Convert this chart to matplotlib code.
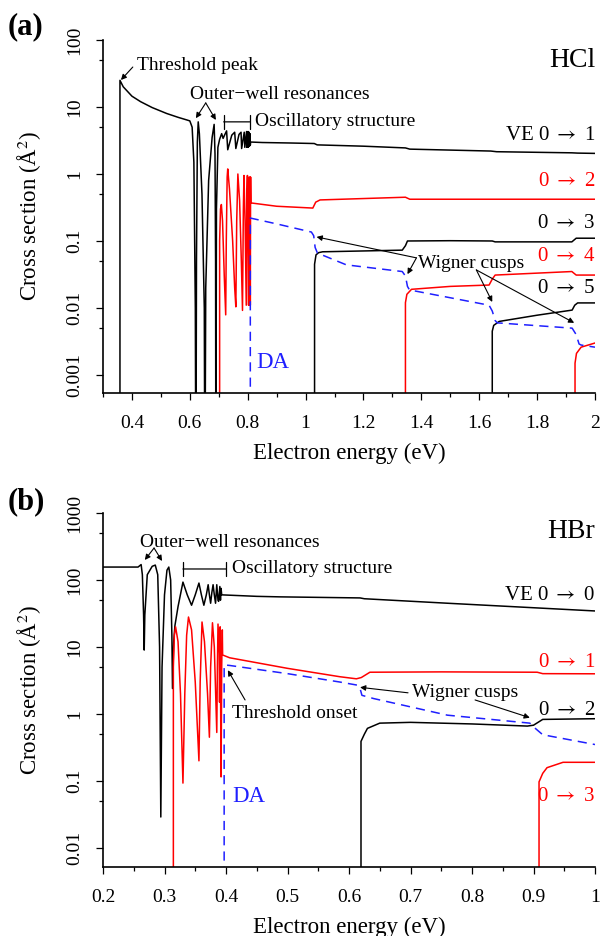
import numpy as np
import matplotlib
matplotlib.use("Agg")
import matplotlib.pyplot as plt
from matplotlib.ticker import FixedLocator, MultipleLocator, FuncFormatter

plt.rcParams['font.family'] = ['Liberation Serif', 'DejaVu Serif']
plt.rcParams['mathtext.fontset'] = 'stix'

FLOOR = 1e-5  # curves that drop below the axis

# ---------------- HCl (panel a) ----------------
hcl_ve_e = [0.3586, 0.3586, 0.37, 0.40, 0.43, 0.47, 0.52, 0.56, 0.59, 0.600, 0.608, 0.614, 0.619, 0.621,
            0.623, 0.626, 0.629, 0.633, 0.642, 0.650, 0.652, 0.655, 0.665, 0.677, 0.684, 0.687, 0.689,
            0.690, 0.692, 0.697, 0.703, 0.710, 0.715, 0.720, 0.727, 0.731, 0.745, 0.755, 0.759, 0.770,
            0.777, 0.779, 0.788, 0.790, 0.796, 0.797, 0.801, 0.802, 0.805, 0.806, 0.808, 0.809, 0.810,
            0.85, 0.95, 1.03, 1.04, 1.2, 1.345, 1.36, 1.64, 1.66, 1.92, 1.94, 2.0]
hcl_ve_s = [FLOOR, 25, 20, 14.5, 12, 9.8, 8.0, 7.0, 6.4, 6.2, 5.0, 1.5, 0.01, FLOOR,
            0.05, 3.0, 6.0, 4.0, 0.5, 0.01, FLOOR, 0.02, 0.8, 3.5, 5.5, 2.0, 0.05,
            FLOOR, 0.3, 2.5, 3.3, 4.0, 3.4, 3.8, 4.4, 2.3, 3.8, 4.2, 2.4, 3.9,
            4.2, 2.4, 4.2, 2.5, 4.3, 2.5, 4.3, 2.5, 4.2, 2.6, 4.0, 2.7, 3.0,
            2.95, 2.9, 2.85, 2.72, 2.6, 2.45, 2.35, 2.2, 2.15, 2.07, 2.05, 2.03]

hcl_v2_e = [0.703, 0.703, 0.706, 0.709, 0.713, 0.719, 0.724, 0.726, 0.729, 0.731, 0.737, 0.748, 0.755,
            0.759, 0.762, 0.766, 0.772, 0.778, 0.782, 0.785, 0.787, 0.791, 0.795, 0.797, 0.799, 0.801,
            0.803, 0.805, 0.807, 0.808, 0.809, 0.810, 0.811, 0.9, 1.025, 1.035, 1.05, 1.2, 1.345, 1.36,
            1.65, 2.0]
hcl_v2_s = [FLOOR, 0.1, 0.3, 0.35, 0.2, 0.03, 0.0079, 0.1, 0.9, 1.19, 0.6, 0.1, 0.02,
            0.0104, 0.2, 1.0, 0.4, 0.05, 0.0092, 0.3, 0.95, 0.2, 0.011, 0.5, 0.95, 0.1,
            0.011, 0.9, 0.011, 0.9, 0.011, 0.9, 0.37, 0.33, 0.31, 0.38, 0.41, 0.43, 0.45, 0.42,
            0.42, 0.42]

hcl_da_e = [0.809, 0.809, 0.9, 1.02, 1.028, 1.033, 1.041, 1.141, 1.334, 1.345, 1.352, 1.359, 1.634,
            1.645, 1.655, 1.662, 1.921, 1.935, 1.945, 1.952, 2.0]
hcl_da_s = [FLOOR, 0.22, 0.18, 0.136, 0.12, 0.08, 0.066, 0.044, 0.035, 0.03, 0.021, 0.0186, 0.011,
            0.009, 0.0065, 0.006, 0.005, 0.004, 0.0029, 0.0028, 0.0026]

hcl_v3_e = [1.031, 1.031, 1.036, 1.045, 1.059, 1.2, 1.334, 1.345, 1.352, 1.5, 1.645, 1.655, 1.92, 1.935, 2.0]
hcl_v3_s = [FLOOR, 0.045, 0.062, 0.067, 0.069, 0.071, 0.073, 0.085, 0.1, 0.101, 0.1, 0.097, 0.097, 0.11, 0.11]

hcl_v4_e = [1.345, 1.345, 1.35, 1.366, 1.5, 1.634, 1.645, 1.655, 1.92, 1.935, 2.0]
hcl_v4_s = [FLOOR, 0.012, 0.016, 0.019, 0.021, 0.022, 0.027, 0.031, 0.035, 0.031, 0.031]

hcl_v5_e = [1.645, 1.645, 1.65, 1.669, 1.8, 1.921, 1.93, 1.94, 2.0]
hcl_v5_s = [FLOOR, 0.0045, 0.0055, 0.0063, 0.0078, 0.0093, 0.011, 0.0119, 0.0119]

hcl_v6_e = [1.931, 1.931, 1.936, 1.952, 2.0]
hcl_v6_s = [FLOOR, 0.0015, 0.0021, 0.0026, 0.003]

# ---------------- HBr (panel b) ----------------
hbr_ve_e = [0.2, 0.257, 0.262, 0.264, 0.266, 0.267, 0.268, 0.272, 0.28, 0.285, 0.289, 0.292, 0.294,
            0.296, 0.300, 0.304, 0.307, 0.310, 0.312, 0.313, 0.315, 0.317, 0.322, 0.33, 0.337, 0.344,
            0.35, 0.356, 0.360, 0.364, 0.368, 0.371, 0.373, 0.375, 0.377, 0.379, 0.381, 0.383, 0.385,
            0.387, 0.388, 0.390, 0.391, 0.392, 0.393, 0.45, 0.488, 0.618, 0.625, 0.76, 1.0]
hbr_ve_s = [156, 156, 170, 120, 30, 9.0, 30, 120, 160, 167, 120, 10, 0.029,
            5, 60, 140, 156, 100, 15, 2.4, 12, 21, 40, 93, 60, 42,
            60, 90, 60, 42, 60, 85, 60, 45, 65, 85, 60, 45, 85,
            50, 48, 80, 50, 75, 60, 57, 56, 54, 52.5, 45, 34.5]

hbr_v1_e = [0.3144, 0.3144, 0.316, 0.318, 0.322, 0.326, 0.330, 0.333, 0.336, 0.339, 0.344, 0.350,
            0.356, 0.358, 0.361, 0.365, 0.370, 0.373, 0.375, 0.378, 0.381, 0.385, 0.386, 0.387,
            0.389, 0.3895, 0.3905, 0.392, 0.393, 0.394, 0.3945, 0.406, 0.5, 0.585, 0.612, 0.62,
            0.634, 0.75, 0.906, 0.915, 1.0]
hbr_v1_s = [FLOOR, 5, 15, 20, 12, 2, 0.093, 2, 15, 28, 18, 3,
            0.2, 3, 23.6, 12, 2, 0.45, 5, 23, 10, 0.53, 5, 22,
            8, 1.5, 20, 0.115, 5, 18, 7.6, 6.9, 4.8, 3.6, 3.35, 3.5,
            4.2, 4.25, 4.2, 4.0, 3.98]

hbr_da_e = [0.397, 0.397, 0.406, 0.5, 0.585, 0.613, 0.618, 0.621, 0.64, 0.76, 0.894, 0.902, 0.915, 1.0]
hbr_da_s = [FLOOR, 5.4, 5.3, 4.0, 3.0, 2.7, 2.4, 1.9, 1.7, 0.96, 0.73, 0.62, 0.49, 0.35]

hbr_v2_e = [0.6195, 0.6195, 0.625, 0.63, 0.65, 0.7, 0.8, 0.89, 0.9, 0.915, 1.0]
hbr_v2_s = [FLOOR, 0.39, 0.5, 0.61, 0.73, 0.75, 0.71, 0.66, 0.68, 0.83, 0.85]

hbr_v3_e = [0.909, 0.909, 0.915, 0.922, 0.948, 1.0]
hbr_v3_s = [FLOOR, 0.097, 0.13, 0.158, 0.19, 0.19]

# axis ticks
a_yticks = [0.001, 0.01, 0.1, 1, 10, 100]
b_yticks = [0.01, 0.1, 1, 10, 100, 1000]

RED = '#ff0000'
BLUE = '#1f1fff'
TXT = 14
ARR = r'$\rightarrow$'
ARW = dict(arrowstyle='-|>', color='black', lw=0.8, mutation_scale=8, shrinkA=0, shrinkB=0)


def style_axis(ax, xlim, ylim, xmaj, xmin, yticks):
    ax.set_yscale('log')
    ax.set_xlim(*xlim)
    ax.set_ylim(*ylim)
    for s in ['top', 'right']:
        ax.spines[s].set_visible(False)
    for s in ['left', 'bottom']:
        ax.spines[s].set_linewidth(1.2)
    ax.xaxis.set_major_locator(MultipleLocator(xmaj))
    ax.xaxis.set_minor_locator(MultipleLocator(xmin))
    ax.xaxis.set_major_formatter(FuncFormatter(lambda v, p: '%g' % round(v, 3)))
    ax.yaxis.set_major_locator(FixedLocator(yticks))
    ax.yaxis.set_minor_locator(FixedLocator([5 * t for t in yticks]))
    ax.yaxis.set_major_formatter(FuncFormatter(lambda v, p: '%g' % v))
    ax.yaxis.set_minor_formatter(FuncFormatter(lambda v, p: ''))
    ax.tick_params(which='major', direction='out', length=5, width=0.9, labelsize=14)
    ax.tick_params(which='minor', direction='out', length=3, width=0.9)
    ax.tick_params(axis='x', which='major', pad=11)
    ax.tick_params(axis='y', which='major', pad=9)
    for lab in ax.get_yticklabels():
        lab.set_rotation(90)
        lab.set_va('center')


def curve(ax, e, s, color, dashed=False):
    if dashed:
        ax.plot(e, s, color=color, lw=1.1, dashes=(6, 4))
    else:
        ax.plot(e, s, color=color, lw=1.1)


fig = plt.figure(figsize=(6.02, 9.36), dpi=100)
W, H = 602.0, 936.0
ax_a = fig.add_axes([103 / W, 1 - 393 / H, 492 / W, 353 / H])
ax_b = fig.add_axes([103 / W, 1 - 867 / H, 492 / W, 354 / H])

# ---- panel (a)
style_axis(ax_a, (0.3, 2.0), (10 ** -3.269, 100), 0.2, 0.1, a_yticks)
curve(ax_a, hcl_ve_e, hcl_ve_s, 'black')
curve(ax_a, hcl_v2_e, hcl_v2_s, RED)
curve(ax_a, hcl_v3_e, hcl_v3_s, 'black')
curve(ax_a, hcl_v4_e, hcl_v4_s, RED)
curve(ax_a, hcl_v5_e, hcl_v5_s, 'black')
curve(ax_a, hcl_v6_e, hcl_v6_s, RED)
curve(ax_a, hcl_da_e, hcl_da_s, BLUE, dashed=True)

ax_a.text(2.0, 50, 'HCl', ha='right', va='center', fontsize=20)
ax_a.text(2.0, 3.8, 'VE 0 ' + ARR + ' 1', ha='right', va='center', fontsize=15)
ax_a.text(2.0, 0.76, '0 ' + ARR + ' 2', ha='right', va='center', fontsize=15, color=RED)
ax_a.text(2.0, 0.18, '0 ' + ARR + ' 3', ha='right', va='center', fontsize=15)
ax_a.text(2.0, 0.058, '0 ' + ARR + ' 4', ha='right', va='center', fontsize=15, color=RED)
ax_a.text(2.0, 0.0198, '0 ' + ARR + ' 5', ha='right', va='center', fontsize=15)
ax_a.text(0.828, 0.00156, 'DA', ha='left', va='center', fontsize=16.5, color=BLUE)

ax_a.text(0.417, 42, 'Threshold peak', ha='left', va='center', fontsize=TXT)
ax_a.annotate('', xy=(0.362, 25.3), xytext=(0.403, 39.5), arrowprops=ARW)
ax_a.text(0.60, 15.2, 'Outer\u2212well resonances', ha='left', va='center', fontsize=TXT)
ax_a.annotate('', xy=(0.621, 6.8), xytext=(0.655, 11.5), arrowprops=ARW)
ax_a.annotate('', xy=(0.69, 6.4), xytext=(0.655, 11.5), arrowprops=ARW)
ax_a.annotate('', xy=(0.717, 6.0), xytext=(0.807, 6.0),
              arrowprops=dict(arrowstyle='|-|', lw=0.9, mutation_scale=5, shrinkA=0, shrinkB=0))
ax_a.text(0.824, 6.0, 'Oscillatory structure', ha='left', va='center', fontsize=TXT)
ax_a.text(1.388, 0.046, 'Wigner cusps', ha='left', va='center', fontsize=TXT)
ax_a.annotate('', xy=(1.038, 0.115), xytext=(1.383, 0.056), arrowprops=ARW)
ax_a.annotate('', xy=(1.352, 0.032), xytext=(1.383, 0.056), arrowprops=ARW)
ax_a.annotate('', xy=(1.645, 0.0123), xytext=(1.59, 0.037), arrowprops=ARW)
ax_a.annotate('', xy=(1.928, 0.006), xytext=(1.59, 0.037), arrowprops=ARW)

# ---- panel (b)
style_axis(ax_b, (0.2, 1.0), (10 ** -2.284, 1000), 0.1, 0.05, b_yticks)
curve(ax_b, hbr_ve_e, hbr_ve_s, 'black')
curve(ax_b, hbr_v1_e, hbr_v1_s, RED)
curve(ax_b, hbr_v2_e, hbr_v2_s, 'black')
curve(ax_b, hbr_v3_e, hbr_v3_s, RED)
curve(ax_b, hbr_da_e, hbr_da_s, BLUE, dashed=True)

ax_b.text(1.0, 521, 'HBr', ha='right', va='center', fontsize=20)
ax_b.text(1.0, 57.8, 'VE 0 ' + ARR + ' 0', ha='right', va='center', fontsize=15)
ax_b.text(1.0, 5.8, '0 ' + ARR + ' 1', ha='right', va='center', fontsize=15, color=RED)
ax_b.text(1.0, 1.14, '0 ' + ARR + ' 2', ha='right', va='center', fontsize=15)
ax_b.text(1.0, 0.058, '0 ' + ARR + ' 3', ha='right', va='center', fontsize=15, color=RED)
ax_b.text(0.41, 0.058, 'DA', ha='left', va='center', fontsize=16.5, color=BLUE)

ax_b.text(0.26, 369, 'Outer\u2212well resonances', ha='left', va='center', fontsize=TXT)
ax_b.annotate('', xy=(0.268, 199), xytext=(0.283, 300), arrowprops=ARW)
ax_b.annotate('', xy=(0.296, 192), xytext=(0.283, 300), arrowprops=ARW)
ax_b.annotate('', xy=(0.33, 146), xytext=(0.40, 146),
              arrowprops=dict(arrowstyle='|-|', lw=0.9, mutation_scale=5, shrinkA=0, shrinkB=0))
ax_b.text(0.41, 146, 'Oscillatory structure', ha='left', va='center', fontsize=TXT)
ax_b.text(0.41, 1.03, 'Threshold onset', ha='left', va='center', fontsize=TXT)
ax_b.annotate('', xy=(0.403, 4.5), xytext=(0.431, 1.62), arrowprops=ARW)
ax_b.text(0.7024, 2.07, 'Wigner cusps', ha='left', va='center', fontsize=TXT)
ax_b.annotate('', xy=(0.618, 2.5), xytext=(0.696, 2.07), arrowprops=ARW)
ax_b.annotate('', xy=(0.894, 0.88), xytext=(0.805, 1.62), arrowprops=ARW)

# axis labels and panel letters
for yc, xl in [(216, 453), (690, 927)]:
    fig.text(30 / W, 1 - yc / H, 'Cross section (Å$^{2}$)', rotation=90,
             ha='center', va='center', fontsize=16.5)
    fig.text(349 / W, 1 - xl / H, 'Electron energy (eV)', ha='center', va='center', fontsize=16.5)
fig.text(8 / W, 1 - 27 / H, '(a)', ha='left', va='center', fontsize=22, fontweight='bold')
fig.text(8 / W, 1 - 502 / H, '(b)', ha='left', va='center', fontsize=22, fontweight='bold')

fig.savefig('out.png', dpi=100)
